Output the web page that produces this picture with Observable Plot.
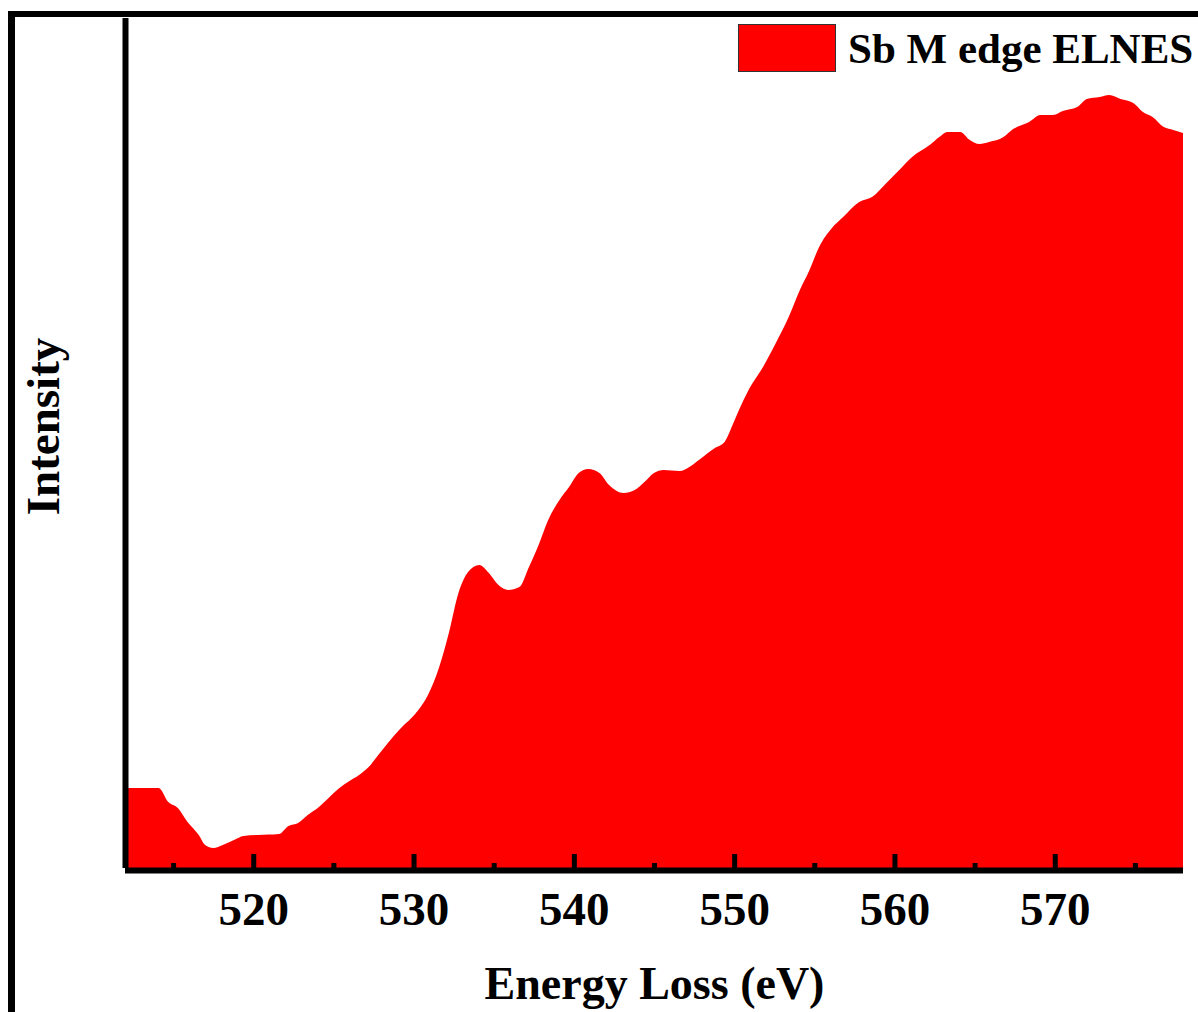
<!DOCTYPE html>
<html>
<head>
<meta charset="utf-8">
<script src="https://cdn.jsdelivr.net/npm/d3@7"></script>
<script src="https://cdn.jsdelivr.net/npm/@observablehq/plot@0.6"></script>
<style>
  html, body { margin: 0; padding: 0; background: #fff; }
  #wrap { position: relative; width: 1198px; height: 1012px; overflow: hidden; font-family: "Liberation Serif", serif; }
  #chart { position: absolute; left: 0; top: 0; }
  #frame { position: absolute; left: 8px; top: 11px; right: -20px; bottom: -20px; border-left: 7px solid #000; border-top: 6px solid #000; pointer-events: none; }
  #legend { position: absolute; left: 738px; top: 24px; display: flex; align-items: center; white-space: nowrap; }
  #legend .swatch { flex: none; width: 98px; height: 48px; box-sizing: border-box; background: #ff0000; border: 1px solid #333; }
  #legend .label { margin-left: 12px; font-size: 43px; font-weight: bold; line-height: 1; color: #000; white-space: nowrap; }
</style>
</head>
<body>
<div id="wrap">
  <div id="chart"></div>
  <div id="frame"></div>
  <div id="legend"><div class="swatch"></div><div class="label">Sb M edge ELNES</div></div>
</div>
<script>
// Energy loss (eV) and intensity (arbitrary units)
const energy = [512.0, 514.1, 514.7, 515.3, 515.9, 516.6, 517.0, 517.5, 518.1, 518.8,
  519.4, 520.3, 521.6, 522.2, 522.8, 523.4, 524.1, 524.7, 525.3, 525.9,
  526.6, 527.2, 527.8, 528.4, 529.1, 530.3, 530.9, 531.6, 532.2, 532.8,
  533.4, 534.1, 534.7, 535.3, 535.9, 536.6, 537.2, 537.8, 538.4, 539.1,
  539.7, 540.3, 540.9, 541.6, 542.2, 543.1, 543.8, 544.4, 545.0, 545.6,
  546.6, 547.2, 547.8, 548.8, 549.4, 549.9, 550.3, 550.9, 551.8, 552.6,
  553.4, 554.1, 554.7, 555.3, 556.1, 556.8, 557.8, 558.6, 559.5, 560.3,
  561.1, 562.2, 562.8, 563.3, 564.1, 564.7, 565.3, 565.9, 566.8, 567.4,
  568.4, 569.1, 569.9, 570.5, 571.4, 572.0, 572.8, 573.4, 574.1, 574.9,
  575.5, 576.1, 576.8, 577.4, 578.0];
const intensity = [80, 80, 66, 60, 46, 33, 23, 20, 23, 28,
  32, 33, 34, 42, 45, 53, 61, 70, 79, 86,
  93, 101, 113, 125, 138, 158, 173, 201, 235, 275,
  296, 303, 295, 283, 278, 281, 301, 323, 348, 368,
  381, 395, 399, 395, 383, 375, 378, 386, 395, 398,
  397, 401, 408, 420, 426, 443, 458, 478, 501, 525,
  551, 578, 598, 621, 640, 651, 666, 671, 685, 698,
  711, 723, 731, 736, 736, 728, 724, 726, 731, 739,
  746, 753, 753, 757, 761, 769, 771, 773, 769, 765,
  756, 751, 741, 738, 735];
const majorTicks = [520, 530, 540, 550, 560, 570];
const minorTicks = [515, 525, 535, 545, 555, 565, 575];
const xDomain = [512, 578];
const yDomain = [0, 850];

const data = energy.map((e, i) => ({e, v: intensity[i]}));
const font = "'Liberation Serif', 'Times New Roman', serif";

const chart = Plot.plot({
  width: 1198,
  height: 1012,
  marginLeft: 125,
  marginRight: 15,
  marginTop: 18,
  marginBottom: 144,
  style: {fontFamily: font, background: "transparent", color: "#000"},
  x: {domain: xDomain, axis: null},
  y: {domain: yDomain, axis: null},
  marks: [
    Plot.areaY(data, {x: "e", y: "v", fill: "#ff0000", curve: "monotone-x"}),
    Plot.ruleX(majorTicks, {x: d => d, y1: 0, y2: 14, stroke: "#000", strokeWidth: 5}),
    Plot.ruleX(minorTicks, {x: d => d, y1: 0, y2: 5, stroke: "#000", strokeWidth: 5}),
    Plot.ruleY([0], {stroke: "#000", strokeWidth: 6, dy: 2}),
    Plot.ruleX([xDomain[0]], {stroke: "#000", strokeWidth: 6}),
    Plot.axisX(majorTicks, {tickSize: 0, tickPadding: 23, fontSize: 47, fontWeight: "bold", fontFamily: font, fill: "#000", label: null}),
    Plot.text(["Energy Loss (eV)"], {text: d => d, frameAnchor: "bottom", textAnchor: "middle", dy: 130, fontSize: 46, fontWeight: "bold", fontFamily: font, fill: "#000"}),
    Plot.text(["Intensity"], {text: d => d, frameAnchor: "left", textAnchor: "middle", rotate: -90, dx: -82, dy: -17, fontSize: 47, fontWeight: "bold", fontFamily: font, fill: "#000"})
  ]
});
document.getElementById("chart").appendChild(chart);
</script>
</body>
</html>
